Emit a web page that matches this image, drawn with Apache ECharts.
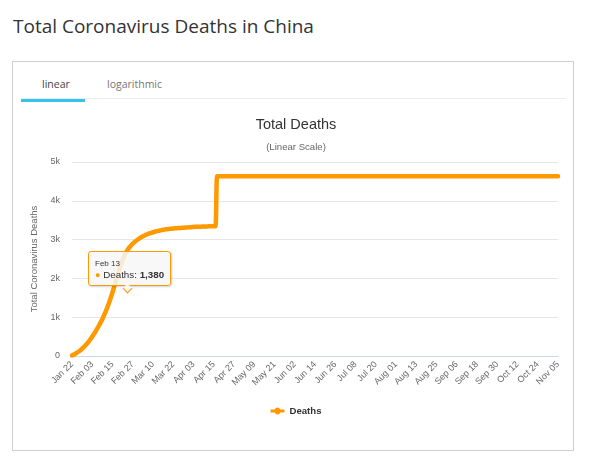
<!DOCTYPE html>
<html>
<head>
<meta charset="utf-8">
<script src="https://cdn.jsdelivr.net/npm/echarts@6/dist/echarts.min.js"></script>
<style>
  html, body { margin:0; padding:0; background:#fff; width:592px; height:462px; overflow:hidden; }
  #pageTitle { position:absolute; left:13px; top:13px; font-family:"Open Sans", sans-serif; font-size:19px; line-height:26px; color:#333; white-space:nowrap; }
  #box { position:absolute; left:12px; top:61px; width:560px; height:388px; border:1px solid #cfcfcf; }
  .tab { position:absolute; top:77px; font-family:"Open Sans", sans-serif; font-size:10.5px; line-height:14px; white-space:nowrap; }
  #tabLinear { left:42px; color:#444; }
  #tabLog { left:107px; color:#777; }
  #tabSep { position:absolute; left:21px; top:98px; width:545px; height:1px; background:#ececec; }
  #tabUnder { position:absolute; left:21px; top:99px; width:64px; height:2.5px; background:#34c3ef; }
  #chart { position:absolute; left:0; top:0; width:592px; height:462px; }
</style>
</head>
<body>
<div id="pageTitle">Total Coronavirus Deaths in China</div>
<div id="box"></div>
<div class="tab" id="tabLinear">linear</div>
<div class="tab" id="tabLog">logarithmic</div>
<div id="tabSep"></div>
<div id="tabUnder"></div>
<div id="chart"></div>
<script>
// ---- data (total deaths per day) ----
const startDate = [2020, 0, 22];   // Jan 22
const jan = [17, 35, 58, 85, 115, 149, 187, 229, 275, 325];
const feb = [379, 437, 499, 565, 635, 709, 787, 869, 955, 1050, 1152, 1262, 1380, 1507, 1643, 1786,
             1934, 2082, 2224, 2356, 2474, 2576, 2663, 2736, 2797, 2849, 2894, 2934, 2970];
const mar = [3003, 3033, 3060, 3085, 3107, 3127, 3145, 3161, 3176, 3190, 3203, 3215, 3226, 3236, 3245, 3253,
             3260, 3266, 3272, 3277, 3282, 3286, 3290, 3294, 3297, 3300, 3303, 3306, 3309, 3312, 3315];
const apr = [3318, 3322, 3326, 3329, 3331, 3331, 3333, 3335, 3336, 3339, 3339, 3341, 3341, 3342, 3342, 3342,
             4632, 4632, 4632, 4632, 4632, 4632, 4632, 4632, 4632, 4632, 4632, 4632, 4632, 4632];
const may = [4633, 4633, 4633, 4633, 4633, 4633, 4633, 4633, 4633, 4633, 4633, 4633, 4633, 4633, 4633, 4633,
             4634, 4634, 4634, 4634, 4634, 4634, 4634, 4634, 4634, 4634, 4634, 4634, 4634, 4634, 4634];
const jun = [4634, 4634, 4634, 4634, 4634, 4634, 4634, 4634, 4634, 4634, 4634, 4634, 4634, 4634, 4634,
             4634, 4634, 4634, 4634, 4634, 4634, 4634, 4634, 4634, 4634, 4634, 4634, 4634, 4634, 4634];
const jul = [4634, 4634, 4634, 4634, 4634, 4634, 4634, 4634, 4634, 4634, 4634, 4634, 4634, 4634, 4634, 4634,
             4634, 4634, 4634, 4634, 4634, 4634, 4634, 4634, 4634, 4634, 4634, 4634, 4634, 4634, 4634];
const aug = [4634, 4634, 4634, 4634, 4634, 4634, 4634, 4634, 4634, 4634, 4634, 4634, 4634, 4634, 4634, 4634,
             4634, 4634, 4634, 4634, 4634, 4634, 4634, 4634, 4634, 4634, 4634, 4634, 4634, 4634, 4634];
const sep = [4634, 4634, 4634, 4634, 4634, 4634, 4634, 4634, 4634, 4634, 4634, 4634, 4634, 4634, 4634,
             4634, 4634, 4634, 4634, 4634, 4634, 4634, 4634, 4634, 4634, 4634, 4634, 4634, 4634, 4634];
const oct = [4634, 4634, 4634, 4634, 4634, 4634, 4634, 4634, 4634, 4634, 4634, 4634, 4634, 4634, 4634, 4634,
             4634, 4634, 4634, 4634, 4634, 4634, 4634, 4634, 4634, 4634, 4634, 4634, 4634, 4634, 4634];
const nov = [4634, 4634, 4634, 4634, 4634];
const deaths = [].concat(jan, feb, mar, apr, may, jun, jul, aug, sep, oct, nov);

const monthNames = ['Jan','Feb','Mar','Apr','May','Jun','Jul','Aug','Sep','Oct','Nov','Dec'];
const categories = deaths.map(function (v, i) {
  const d = new Date(startDate[0], startDate[1], startDate[2] + i);
  return monthNames[d.getMonth()] + ' ' + String(d.getDate()).padStart(2, '0');
});
const yTicks = [0, 1000, 2000, 3000, 4000, 5000];
const tipIndex = categories.indexOf('Feb 13');
const seriesName = 'Deaths';

const FONT = '"Liberation Sans", Arial, Helvetica, sans-serif';
const chart = echarts.init(document.getElementById('chart'), null, { renderer: 'canvas' });
chart.setOption({
  animation: false,
  textStyle: { fontFamily: FONT },
  title: {
    text: 'Total Deaths',
    subtext: '(Linear Scale)',
    left: 'center',
    top: 117,
    padding: 0,
    itemGap: 10,
    textStyle: { fontFamily: FONT, fontSize: 14.5, fontWeight: 'normal', color: '#333333' },
    subtextStyle: { fontFamily: FONT, fontSize: 9.6, color: '#666666' }
  },
  grid: { left: 72, right: 34, top: 162, bottom: 106, containLabel: false },
  xAxis: {
    type: 'category',
    data: categories,
    boundaryGap: false,
    axisLine: { lineStyle: { color: '#ccd6eb', width: 1 } },
    axisTick: { show: false },
    axisLabel: { interval: 11, rotate: 45, margin: 7, fontSize: 9, color: '#666666', fontFamily: FONT }
  },
  yAxis: {
    type: 'value',
    min: yTicks[0],
    max: yTicks[yTicks.length - 1],
    interval: 1000,
    name: 'Total Coronavirus Deaths',
    nameLocation: 'middle',
    nameGap: 19,
    nameTextStyle: { fontSize: 9.5, color: '#666666', fontFamily: FONT },
    axisLine: { show: false },
    axisTick: { show: false },
    splitLine: { lineStyle: { color: '#e6e6e6', width: 1 } },
    axisLabel: {
      margin: 12, fontSize: 9, color: '#666666', fontFamily: FONT,
      formatter: function (v) { return v === 0 ? '0' : (v / 1000) + 'k'; }
    }
  },
  legend: {
    data: [seriesName],
    left: 'center',
    top: 401,
    itemWidth: 14,
    itemHeight: 8,
    itemGap: 10,
    icon: 'path://M0,2.5H4.2A3,3,0,0,1,9.8,2.5H14V5.5H9.8A3,3,0,0,1,4.2,5.5H0Z',
    textStyle: { fontFamily: FONT, fontSize: 9.6, fontWeight: 'bold', color: '#333333' }
  },
  tooltip: {
    trigger: 'axis',
    triggerOn: 'none',
    alwaysShowContent: true,
    transitionDuration: 0,
    axisPointer: { type: 'none' },
    backgroundColor: 'rgba(247,247,247,0.85)',
    borderColor: '#ff9900',
    borderWidth: 1,
    padding: [6, 6, 4, 6],
    extraCssText: 'border-radius:3px;box-shadow:1px 1px 2px rgba(0,0,0,0.18);',
    position: function () { return [88, 251]; },
    formatter: function (params) {
      const p = Array.isArray(params) ? params[0] : params;
      const val = Number(p.value).toLocaleString('en-US');
      return '<div style="position:relative;font-family:' + FONT.replace(/"/g, "'") + ';white-space:nowrap;">' +
        '<div style="font-size:8px;line-height:11px;color:#333;">' + p.name + '</div>' +
        '<div style="font-size:9.8px;line-height:12px;color:#333;"><span style="color:#ff9900;font-size:9px;">\u25CF</span> ' +
        p.seriesName + ': <b>' + val + '</b></div>' +
        '</div>' +
        '<div style="position:absolute;left:35px;bottom:-6.5px;width:6px;height:6px;background:#f7f7f7;' +
        'border-right:1px solid #ff9900;border-bottom:1px solid #ff9900;transform:rotate(45deg);"></div>';
    }
  },
  series: [{
    name: seriesName,
    type: 'line',
    data: deaths,
    smooth: 0.3,
    symbol: 'none',
    showSymbol: false,
    color: '#ff9900',
    emphasis: { disabled: true },
    lineStyle: { width: 4.5, color: '#ff9900', cap: 'round', join: 'round' }
  }]
});
chart.dispatchAction({ type: 'showTip', seriesIndex: 0, dataIndex: tipIndex });
</script>
</body>
</html>
